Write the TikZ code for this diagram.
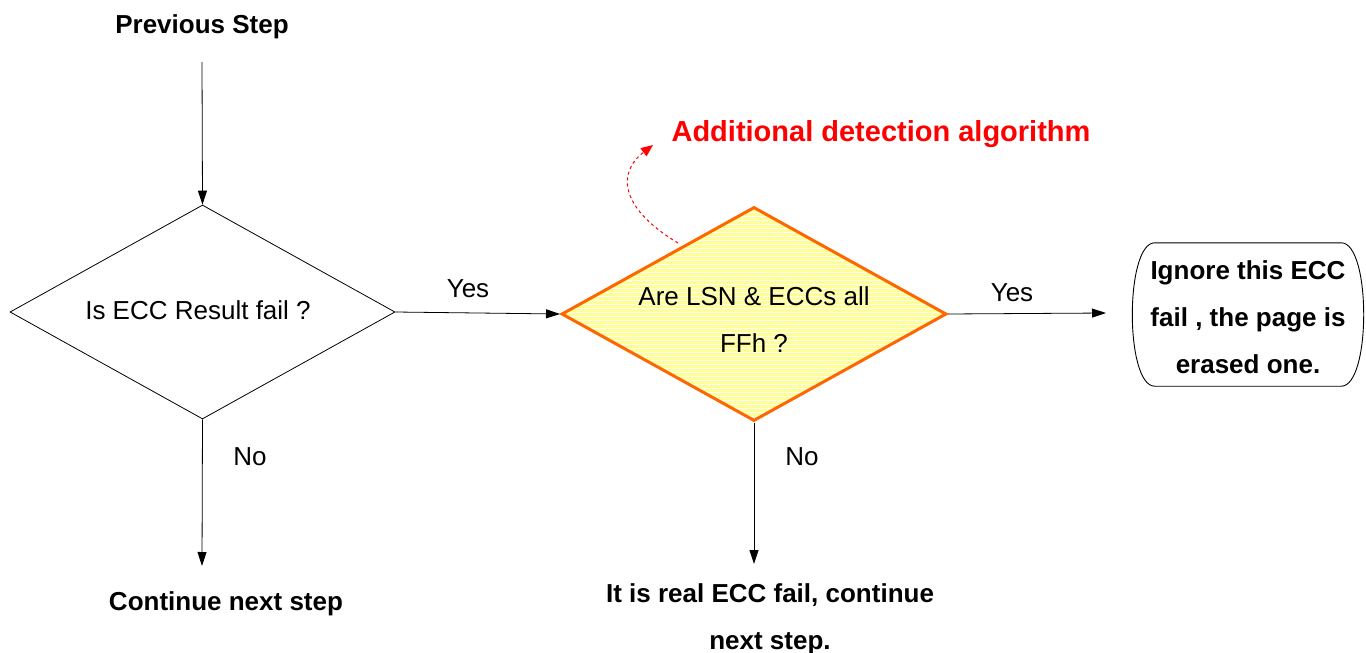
\documentclass[tikz,border=0pt]{standalone}
\usepackage{fontspec}
\setmainfont{Liberation Sans}
\usetikzlibrary{shapes.geometric,arrows.meta}
\definecolor{orng}{RGB}{255,102,0}
\definecolor{lyel}{RGB}{255,255,150}
\tikzset{
  txt/.style={font=\fontsize{26}{47}\selectfont, align=center, inner sep=0pt},
  btxt/.style={txt, font=\fontsize{26}{47}\selectfont\bfseries},
  arr/.style={draw=black, line width=0.8pt, -{Triangle[length=14pt,width=9pt]}},
  dia/.style={diamond, inner sep=0pt, shape aspect=1.8, minimum width=385pt, minimum height=214pt},
  stripes/.style={path picture={
    \fill[lyel] (path picture bounding box.south west) rectangle (path picture bounding box.north east);
    \foreach \i in {0,4,...,230} \draw[white,line width=0.7pt] ([yshift=\i pt]path picture bounding box.south west) -- ([yshift=\i pt]path picture bounding box.south east);}}
}
\begin{document}
\begin{tikzpicture}[x=1pt,y=-1pt]
\useasboundingbox (0,0) rectangle (1366,653);
\node[btxt] (prev) at (202,27) {Previous Step};
\coordinate (prevb) at (202,62);
\node[dia, draw=black, line width=0.8pt] (d1) at (202.5,312) {};
\node[txt] (d1t) at (198,310) {Is ECC Result fail ?};
\node[dia, draw=orng, line width=3pt, stripes] (d2) at (754,314) {};
\node[txt] (d2t) at (754,320) {Are LSN \& ECCs all\\FFh ?};
\node[inner sep=0pt, minimum width=236pt, minimum height=143pt] (ign) at (1248,314.5) {};
\draw[line width=0.9pt] ([xshift=25pt]ign.north west) -- ([xshift=-25pt]ign.north east)
  .. controls ([xshift=5pt]ign.north east) and ([xshift=5pt]ign.south east) .. ([xshift=-25pt]ign.south east)
  -- ([xshift=25pt]ign.south west)
  .. controls ([xshift=-5pt]ign.south west) and ([xshift=-5pt]ign.north west) .. cycle;
\node[btxt] (ignt) at ([yshift=-3pt]ign.center) {Ignore this ECC\\fail , the page is\\erased one.};
\node[btxt] (cont) at (226,604) {Continue next step};
\node[btxt] (real) at (770,619) {It is real ECC fail, continue\\next step.};
\node[font=\fontsize{29}{34}\selectfont\bfseries, text=red, inner sep=0pt] (add) at (881,134) {Additional detection algorithm};
\node[txt] (y1) at (468,289) {Yes};
\node[txt] (y2) at (1012,293) {Yes};
\node[txt] (n1) at (250,457) {No};
\node[txt] (n2) at (802,457) {No};
\coordinate (t1) at (1106,313);
\coordinate (c1) at (202,566);
\coordinate (c2) at (754,564);
\draw[arr] (prevb) -- (d1.north);
\draw[arr] (d1.east) -- (d2.west);
\draw[arr] (d2.east) -- (t1);
\draw[arr] (d1.south) -- (c1);
\draw[arr] (d2.south) -- (c2);
\coordinate (ds) at (678,243);
\coordinate (de) at (653,145);
\draw[red, line width=1pt, dashed, -{Triangle[length=12pt,width=10pt]}] (ds) .. controls (615,205) and (620,170) .. (de);
\end{tikzpicture}
\end{document}
